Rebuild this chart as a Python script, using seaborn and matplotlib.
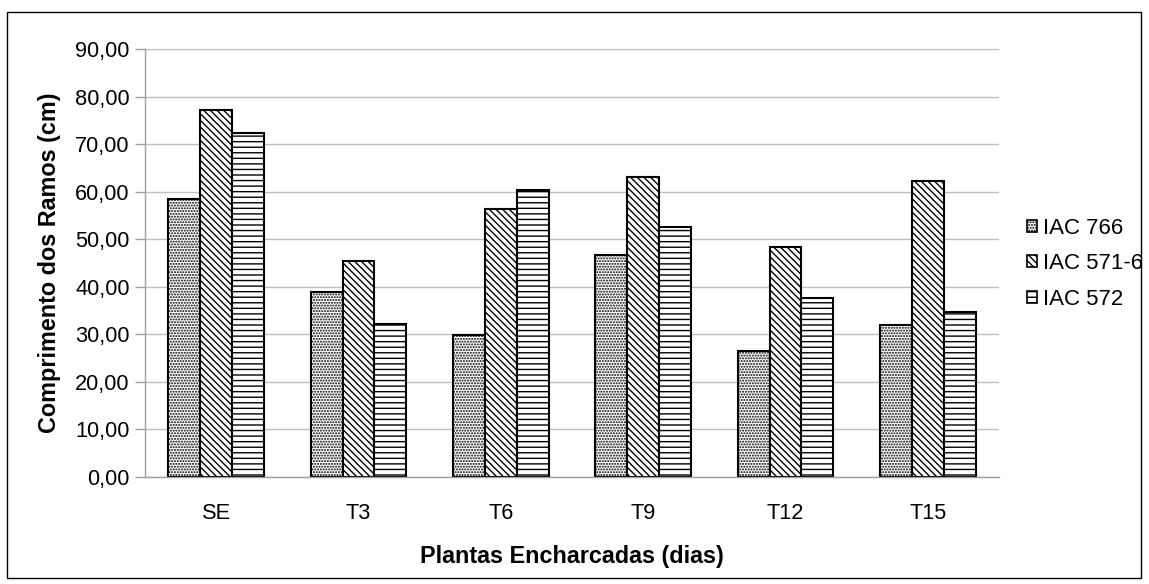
import matplotlib
matplotlib.use("Agg")
import matplotlib.pyplot as plt
import matplotlib.patches as mpatches
import seaborn as sns
import pandas as pd

categories = ["SE", "T3", "T6", "T9", "T12", "T15"]
series_names = ["IAC 766", "IAC 571-6", "IAC 572"]
iac_766 = [58.5, 38.8, 29.8, 46.6, 26.4, 32.0]
iac_571_6 = [77.2, 45.4, 56.3, 63.0, 48.4, 62.3]
iac_572 = [72.4, 32.1, 60.4, 52.5, 37.6, 34.6]
y_ticks = [0, 10, 20, 30, 40, 50, 60, 70, 80, 90]

rows = []
for name, vals in zip(series_names, [iac_766, iac_571_6, iac_572]):
    for c, v in zip(categories, vals):
        rows.append({"cat": c, "serie": name, "val": v})
df = pd.DataFrame(rows)

sns.set_style("white")
plt.rcParams["font.family"] = ["Liberation Sans", "DejaVu Sans"]
plt.rcParams["hatch.linewidth"] = 1.0
plt.rcParams["text.color"] = "black"
plt.rcParams["axes.labelcolor"] = "black"

FS_TICK = 15.7
FS_LEG = 16
FS_LAB = 16.8
fig = plt.figure(figsize=(11.49, 5.84), dpi=100)
ax = fig.add_axes([145/1149, 1 - 477/584, (999-145)/1149, (477-49)/584])

sns.barplot(data=df, x="cat", y="val", hue="serie", order=categories,
            hue_order=series_names, palette=["white"]*3, width=0.67,
            edgecolor="black", linewidth=1.5, ax=ax, legend=False, errorbar=None)

hatches = ["......", "\\\\\\\\\\", "---"]
for i, container in enumerate(ax.containers):
    for bar in container:
        bar.set_hatch(hatches[i])
        bar.set_edgecolor("black")
        bar.set_facecolor("white")

ax.set_ylim(0, 90)
ax.set_xlim(-0.5, 5.5)
ax.set_yticks(y_ticks)
ax.set_yticklabels([f"{t:.2f}".replace(".", ",") for t in y_ticks], fontsize=FS_TICK)
ax.yaxis.grid(True, color="#c0c0c0", linewidth=1)
ax.set_axisbelow(True)

ax.set_xticks(range(len(categories)))
ax.set_xticklabels(categories, fontsize=FS_TICK)
ax.set_xticks([i - 0.5 for i in range(len(categories) + 1)], minor=True)
ax.tick_params(axis="x", which="major", length=0, pad=19, labelcolor="black")
ax.tick_params(axis="x", which="minor", length=7, color="#a0a0a0", width=1)
ax.tick_params(axis="y", length=7, color="#a0a0a0", width=1, pad=4, left=True, labelcolor="black")

for s in ["top", "right"]:
    ax.spines[s].set_visible(False)
for s in ["left", "bottom"]:
    ax.spines[s].set_color("#a0a0a0")
    ax.spines[s].set_linewidth(1)

ax.set_xlabel("Plantas Encharcadas (dias)", fontsize=FS_LAB, fontweight="bold", labelpad=15, color="black")
ax.set_ylabel("Comprimento dos Ramos (cm)", fontsize=FS_LAB, fontweight="bold", labelpad=10, color="black")

handles = [mpatches.Patch(facecolor="white", edgecolor="black", hatch=h, linewidth=1.2, label=n)
           for h, n in zip(hatches, series_names)]
leg = ax.legend(handles=handles, loc="center left", bbox_to_anchor=(1.009, 0.498),
                frameon=False, fontsize=FS_LEG, handlelength=0.45, handleheight=0.45,
                handletextpad=0.3, labelspacing=0.64)
for t in leg.get_texts():
    t.set_color("black")

fig.patches.append(mpatches.Rectangle((7/1149, 1 - 578/584), (1141-7)/1149, (578-12)/584,
                                      transform=fig.transFigure, fill=False,
                                      edgecolor="black", linewidth=1))

fig.savefig("out.png", dpi=100)
